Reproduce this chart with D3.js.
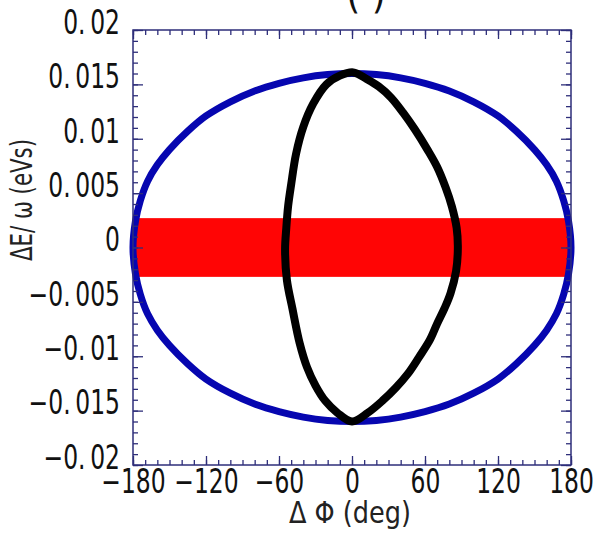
<!DOCTYPE html>
<html lang="en">
<head>
  <meta charset="UTF-8">
  <title>Phase space</title>
  <style>
    body { margin: 0; background: #fff; }
    text { font-family: 'Liberation Sans Narrow', 'DejaVu Sans Condensed', 'Arial Narrow', sans-serif; font-stretch: condensed; }
  </style>
</head>
<body>
  <div id="chart"></div>

  <script src="https://d3js.org/d3.v7.min.js"></script>

  <script>
    // blue separatrix (deg, eVs)
    var bluePhase = [-180, -178, -174, -168, -160, -150, -135, -120, -100, -80, -60, -40, -20, 0,
                     20, 40, 60, 80, 100, 120, 135, 150, 160, 168, 174, 178,
                     180, 178, 174, 168, 160, 150, 135, 120, 100, 80, 60, 40, 20, 0,
                     -20, -40, -60, -80, -100, -120, -135, -150, -160, -168, -174, -178];
    var blueDE = [0, 0.0024, 0.0043, 0.0061, 0.0076, 0.0090, 0.0107, 0.0121, 0.0134, 0.0144, 0.0151, 0.0156, 0.0159, 0.0160,
                  0.0159, 0.0156, 0.0151, 0.0144, 0.0134, 0.0121, 0.0107, 0.0090, 0.0076, 0.0061, 0.0043, 0.0024,
                  0, -0.0024, -0.0043, -0.0061, -0.0076, -0.0090, -0.0107, -0.0121, -0.0134, -0.0144, -0.0151, -0.0156, -0.0159, -0.0160,
                  -0.0159, -0.0156, -0.0151, -0.0144, -0.0134, -0.0121, -0.0107, -0.0090, -0.0076, -0.0061, -0.0043, -0.0024];

    // black bunch contour
    var blackPhase = [1, 12, 22, 32, 42, 52, 62, 70, 77, 82, 86, 87, 85.5, 81, 76, 70, 64, 55, 46, 36, 25, 13, 0,
                      -12, -22, -30, -37, -43, -49, -53.5, -55, -54, -52.5, -50, -46, -40, -32, -21, -10];
    var blackDE = [0.0161, 0.0155, 0.0148, 0.0138, 0.0124, 0.0108, 0.0090, 0.0074, 0.0055, 0.0038, 0.0018, 0, -0.0022, -0.0042,
                   -0.0056, -0.0070, -0.0085, -0.0101, -0.0116, -0.0129, -0.0141, -0.0152, -0.0160,
                   -0.0152, -0.0141, -0.0127, -0.0110, -0.0088, -0.0056, -0.0030, -0.0002, 0.0018, 0.0038, 0.0058, 0.0086,
                   0.0111, 0.0132, 0.0150, 0.0158];

    // red band
    var bandPhase = [-180, 180];
    var bandDE = [-0.0027, 0.0027];

    var xTicks = [-180, -120, -60, 0, 60, 120, 180];
    var yTicks = [-0.02, -0.015, -0.01, -0.005, 0, 0.005, 0.01, 0.015, 0.02];

    var margin = {top: 30, right: 24, bottom: 74, left: 133},
      width = 595 - margin.left - margin.right,
      height = 539 - margin.top - margin.bottom;

    var svg = d3.select("#chart")
      .append("svg")
      .attr("width", 595)
      .attr("height", 539)
      .append("g")
      .attr("transform", "translate(" + margin.left + "," + margin.top + ")");

    var x = d3.scaleLinear().domain([-180, 180]).range([0, width]);
    var y = d3.scaleLinear().domain([-0.02, 0.02]).range([height, 0]);

    var frameColor = "#2e2e7a";
    var squeeze = 0.79; // narrow the glyphs like the original condensed font

    // red band
    svg.append("rect")
      .attr("x", x(bandPhase[0]))
      .attr("y", y(bandDE[1]))
      .attr("width", x(bandPhase[1]) - x(bandPhase[0]))
      .attr("height", y(bandDE[0]) - y(bandDE[1]))
      .style("fill", "#ff0505");

    var line = d3.line()
      .x(function(d) { return x(d[0]); })
      .y(function(d) { return y(d[1]); })
      .curve(d3.curveCatmullRomClosed.alpha(0.5));

    svg.append("path")
      .datum(d3.zip(bluePhase, blueDE))
      .attr("d", line)
      .style("fill", "none")
      .style("stroke", "#0606b0")
      .style("stroke-width", 7);

    svg.append("path")
      .datum(d3.zip(blackPhase, blackDE))
      .attr("d", line)
      .style("fill", "none")
      .style("stroke", "#000")
      .style("stroke-width", 8)
      .style("stroke-linejoin", "round");

    // axes, ticks pointing inward
    function fmtY(d) {
      if (d === 0) return "0";
      var s = Math.abs(d).toString().replace(".", ".\u2009");
      return (d < 0 ? "\u2212" : "") + s;
    }
    function fmtX(d) {
      return (d < 0 ? "\u2212" : "") + Math.abs(d);
    }

    var xMinor = d3.range(-180, 181, 10);
    var yMinor = d3.range(-20, 21, 1).map(function(v) { return v / 1000; });

    var axBottom = svg.append("g")
      .attr("transform", "translate(0," + height + ")")
      .call(d3.axisBottom(x).tickValues(xTicks).tickSize(-9).tickPadding(5).tickFormat(fmtX));
    var axBottomMinor = svg.append("g")
      .attr("transform", "translate(0," + height + ")")
      .call(d3.axisBottom(x).tickValues(xMinor).tickSize(-5).tickFormat(""));
    var axTop = svg.append("g")
      .call(d3.axisTop(x).tickValues(xTicks).tickSize(-9).tickFormat(""));
    var axTopMinor = svg.append("g")
      .call(d3.axisTop(x).tickValues(xMinor).tickSize(-5).tickFormat(""));

    var axLeft = svg.append("g")
      .call(d3.axisLeft(y).tickValues(yTicks).tickSize(-10).tickPadding(13).tickFormat(fmtY));
    var axLeftMinor = svg.append("g")
      .call(d3.axisLeft(y).tickValues(yMinor).tickSize(-5).tickFormat(""));
    var axRight = svg.append("g")
      .attr("transform", "translate(" + width + ",0)")
      .call(d3.axisRight(y).tickValues(yTicks).tickSize(-10).tickFormat(""));
    var axRightMinor = svg.append("g")
      .attr("transform", "translate(" + width + ",0)")
      .call(d3.axisRight(y).tickValues(yMinor).tickSize(-5).tickFormat(""));

    [axBottom, axBottomMinor, axTop, axTopMinor, axLeft, axLeftMinor, axRight, axRightMinor].forEach(function(g) {
      g.select(".domain").remove();
      g.selectAll(".tick line").style("stroke", frameColor).style("stroke-width", 1.3);
    });

    axBottom.selectAll(".tick text")
      .style("font-size", "33px")
      .style("fill", "#111")
      .attr("transform", "scale(" + squeeze + ",1)")
      .attr("dy", "0.71em");
    axLeft.selectAll(".tick text")
      .style("font-size", "33px")
      .style("fill", "#111")
      .attr("transform", "scale(" + squeeze + ",1)")
      .attr("x", -13 / squeeze)
      .attr("dy", "0.1em");

    svg.append("rect")
      .attr("width", width)
      .attr("height", height)
      .style("fill", "none")
      .style("stroke", frameColor)
      .style("stroke-width", 1.5);

    // axis titles
    svg.append("text")
      .attr("text-anchor", "middle")
      .attr("x", width / 2 - 2)
      .attr("y", height + 58)
      .attr("textLength", 122)
      .attr("lengthAdjust", "spacingAndGlyphs")
      .style("font-size", "30px")
      .style("fill", "#222")
      .text("\u0394 \u03a6 (deg)");

    svg.append("text")
      .attr("text-anchor", "middle")
      .attr("transform", "translate(" + (32 - margin.left) + "," + (200 - margin.top) + ") rotate(-90)")
      .attr("textLength", 122)
      .attr("lengthAdjust", "spacingAndGlyphs")
      .style("font-size", "30px")
      .style("fill", "#222")
      .text("\u0394E/ \u03c9 (eVs)");

    // title, cut off at the top edge
    svg.append("text")
      .attr("text-anchor", "middle")
      .attr("x", x(0) + 14)
      .attr("y", 8 - margin.top)
      .style("font-size", "40px")
      .style("fill", "#111")
      .text("(   )");
  </script>
</body>
</html>
